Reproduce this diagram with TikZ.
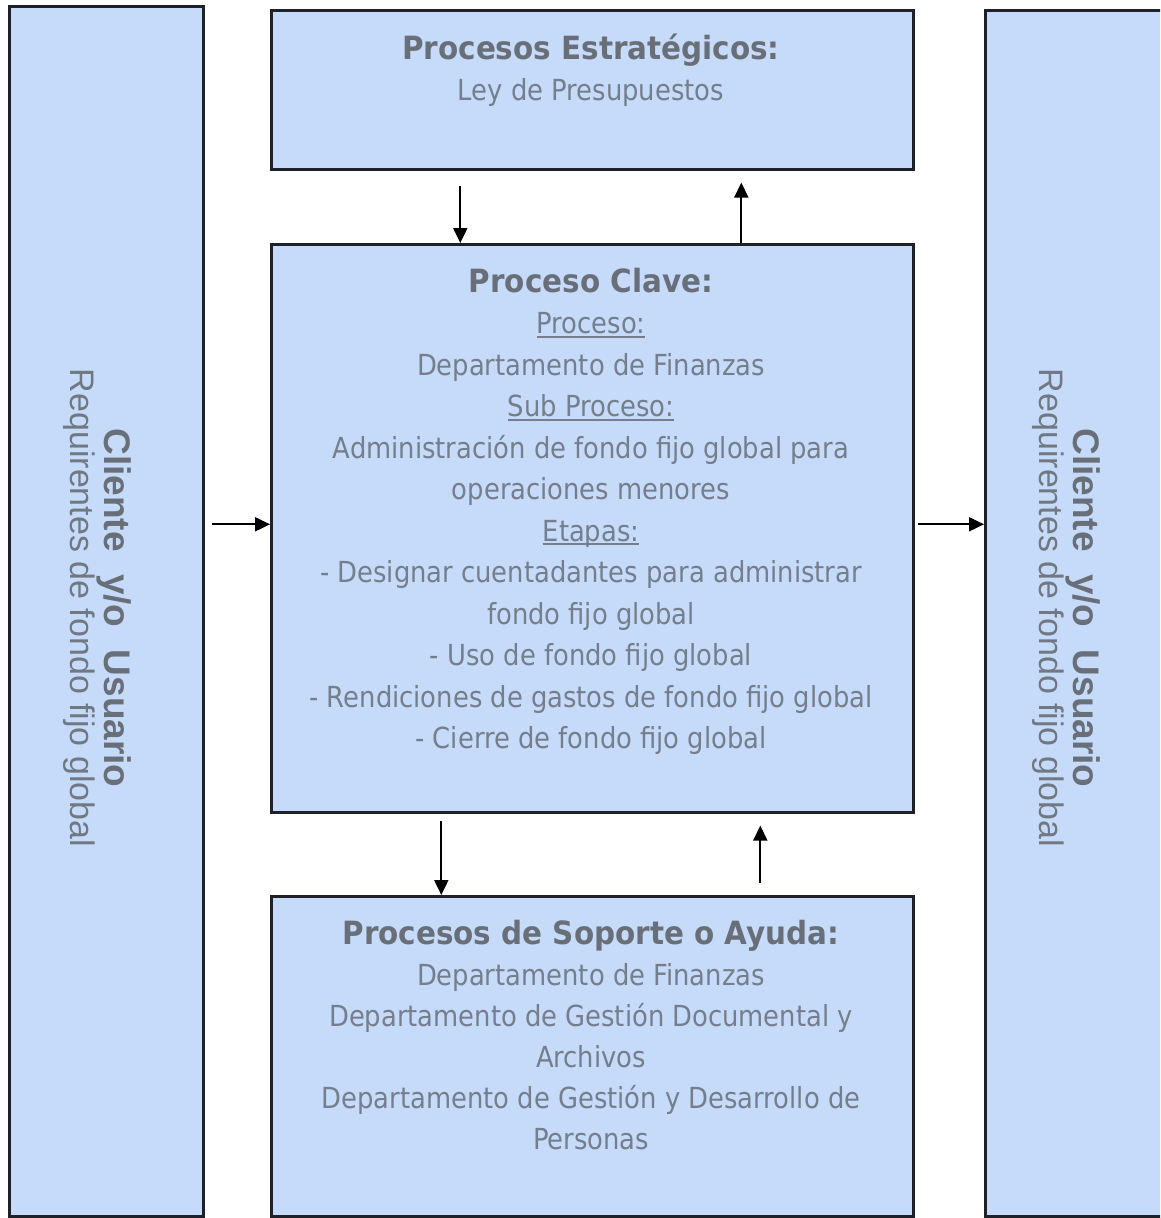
\documentclass[tikz,border=0pt]{standalone}
\usepackage{fontspec}
\usetikzlibrary{arrows.meta}

% Fonts: condensed sans for the process boxes, Arial-like for the side panels
\newfontfamily\boxfont{DejaVu Sans}[FakeStretch=0.89]
\newfontfamily\headfont{DejaVu Sans}[FakeStretch=0.92]
\newfontfamily\sidefont{Liberation Sans}

\definecolor{panelfill}{RGB}{198,219,249}
\definecolor{edge}{RGB}{30,32,42}
\definecolor{bodygray}{RGB}{116,126,140}
\definecolor{headgray}{RGB}{104,111,121}
\definecolor{sidegray}{RGB}{112,120,131}

% underline sitting just below the baseline
\newsavebox\undlbox
\newcommand\undl[1]{\sbox\undlbox{#1}\rlap{\rule[-0.14em]{\wd\undlbox}{0.065em}}\usebox\undlbox}
% bold heading line
\newcommand\boxhead[1]{{\headfont\bfseries\color{headgray}\fontsize{32}{41.5}\selectfont #1}}
% fixed height for the first line of each text block
\newcommand\toprule{\rule{0pt}{30pt}}
% spaced bold title of the side panels
\newcommand\sidetitle{{\bfseries\color{headgray}\fontsize{37}{34}\selectfont Cliente\hspace{0.6em}y/o\hspace{0.6em}Usuario}}

\begin{document}
\begin{tikzpicture}[x=1pt,y=-1pt,
  panel/.style={draw=edge, line width=2.6pt, fill=panelfill, rectangle,
    anchor=north west, inner sep=0pt},
  body/.style={font=\boxfont\fontsize{29}{41.5}\selectfont, text=bodygray,
    align=center, inner sep=0pt, anchor=north},
  sidetext/.style={font=\sidefont\fontsize{34}{34}\selectfont, text=sidegray,
    align=center, inner sep=0pt, rotate=-90, anchor=center},
  arr/.style={draw=black, line width=2pt, -{Triangle[length=15pt,width=14pt]}}]

\fill[white] (0,0) rectangle (1160,1218);
\useasboundingbox (0,0) rectangle (1160,1218);
\clip (0,0) rectangle (1160,1218);

% panels
\node[panel, minimum width=194pt, minimum height=1210pt] (clientin) at (8,5) {};
\node[panel, minimum width=200pt, minimum height=1206pt] (clientout) at (984,9) {};
\node[panel, minimum width=642pt, minimum height=159pt] (strat) at (270,9) {};
\node[panel, minimum width=642pt, minimum height=568pt] (key) at (270,243) {};
\node[panel, minimum width=642pt, minimum height=320pt] (sup) at (270,895) {};

% panel texts
\node[body] (strattext) at (591,29) {\toprule\boxhead{Procesos Estratégicos:}\\
  Ley de Presupuestos};

\node[body] (keytext) at (591,262) {\toprule\boxhead{Proceso Clave:}\\
  \undl{Proceso:}\\
  Departamento de Finanzas\\
  \undl{Sub Proceso:}\\
  Administración de fondo fijo global para\\
  operaciones menores\\
  \undl{Etapas:}\\
  - Designar cuentadantes para administrar\\
  fondo fijo global\\
  - Uso de fondo fijo global\\
  - Rendiciones de gastos de fondo fijo global\\
  - Cierre de fondo fijo global};

\node[body, font=\boxfont\fontsize{29}{41}\selectfont] (suptext) at (591,914) {\toprule\boxhead{Procesos de Soporte o Ayuda:}\\
  Departamento de Finanzas\\
  Departamento de Gestión Documental y\\
  Archivos\\
  Departamento de Gestión y Desarrollo de\\
  Personas};

\node[sidetext] (intext) at (97,608) {\sidetitle\\
  Requirentes de fondo fijo global};
\node[sidetext] (outtext) at (1066,608) {\sidetitle\\
  Requirentes de fondo fijo global};

% connectors
\coordinate (midrow) at ([yshift=4pt]key.west);
\draw[arr, shorten <=7pt] (midrow -| clientin.east) -- (midrow);
\draw[arr, shorten <=3pt] (midrow -| key.east) -- (midrow -| clientout.west);

\draw[arr, shorten <=15pt] ([xshift=-132pt]strat.south) -- ([xshift=-132pt]key.north);
\draw[arr, shorten >=12pt] ([xshift=149pt]key.north) -- ([xshift=149pt]strat.south);
\draw[arr, shorten <=7pt] ([xshift=-151pt]key.south) -- ([xshift=-151pt]sup.north);
\draw[arr, shorten <=12pt, shorten >=12pt] ([xshift=168pt]sup.north) -- ([xshift=168pt]key.south);
\end{tikzpicture}
\end{document}
